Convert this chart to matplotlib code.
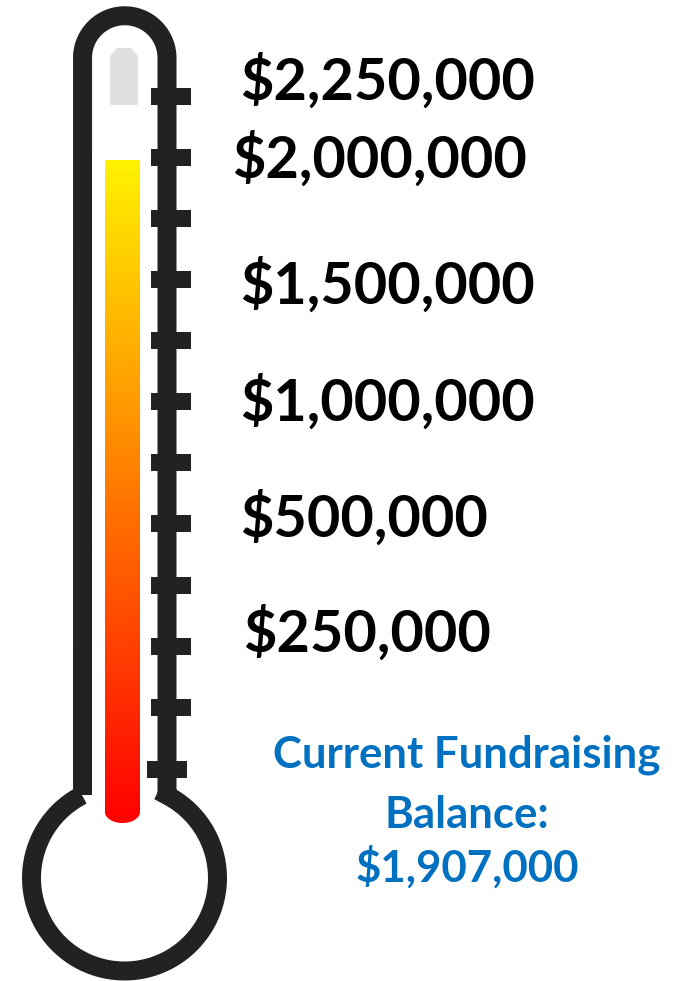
"""Fundraising thermometer infographic."""
import numpy as np
import matplotlib
matplotlib.use("Agg")
import matplotlib.pyplot as plt
from matplotlib.path import Path
from matplotlib.patches import PathPatch
from matplotlib.colors import LinearSegmentedColormap

# data
current_balance = 1907000
label_texts = ["$2,250,000", "$2,000,000", "$1,500,000",
               "$1,000,000", "$500,000", "$250,000"]
caption_lines = ["Current Fundraising", "Balance:", "$1,907,000"]

# layout (pixel space, y grows downward)
W, H = 687, 981
BASE_Y = 823                       # y of empty tube
PX_PER_DOLLAR = (BASE_Y - 160) / current_balance
TUBE_CX, TUBE_HALF, TOP_CY = 124.75, 42.25, 58
BULB_CX, BULB_CY, BULB_R = 124.5, 878, 93
STROKE = "#222222"
LW = 19 * 0.72
tick_y = [96, 157, 218, 279, 340, 401, 462, 523, 585, 646, 707, 769]
label_x = [240, 232, 240, 240, 240, 243]
label_y = [82, 160, 286, 403, 519, 634]
caption_y = [755, 815, 867]

fig = plt.figure(figsize=(W / 100, H / 100), dpi=100)
ax = fig.add_axes([0, 0, 1, 1])
ax.set_xlim(0, W)
ax.set_ylim(H, 0)
ax.axis("off")

# outline: left wall, top cap, right wall, bulb
xl, xr = TUBE_CX - TUBE_HALF, TUBE_CX + TUBE_HALF
a_r = np.arctan2(BULB_CY - 795, xr - BULB_CX)
a_l = np.pi - a_r
t = np.linspace(np.pi, 0, 60)
cap = np.column_stack([TUBE_CX + TUBE_HALF * np.cos(t), TOP_CY - TUBE_HALF * np.sin(t)])
a = np.linspace(a_r, a_l - 2 * np.pi, 200)
bulb = np.column_stack([BULB_CX + BULB_R * np.cos(a), BULB_CY - BULB_R * np.sin(a)])
pts = np.vstack([[[xl, 795]], cap, [[xr, 795]], bulb])
ax.add_patch(PathPatch(Path(pts), fill=False, ec=STROKE, lw=LW,
                       joinstyle="miter", capstyle="butt"))

# scale ticks
for i, y in enumerate(tick_y):
    x0 = 147 if i == len(tick_y) - 1 else 151
    ax.add_patch(plt.Rectangle((x0, y - 8.5), 40, 17, fc=STROKE, ec="none"))

# grey reserve at the top of the tube
ax.add_patch(PathPatch(Path([(110, 105), (110, 56), (117, 48), (131, 48),
                             (138, 56), (138, 105), (110, 105)]),
                       fc="#e0e0e0", ec="none"))

# gradient fill up to current balance
top = BASE_Y - current_balance * PX_PER_DOLLAR
fx0, fx1 = 105, 140
cmap = LinearSegmentedColormap.from_list("heat", ["#ff0000", "#fff200"])
grad = np.linspace(0, 1, 256).reshape(-1, 1)
im = ax.imshow(grad, cmap=cmap, extent=[fx0, fx1, BASE_Y, top],
               origin="lower", aspect="auto", zorder=2)
rx, ry = (fx1 - fx0) / 2, 11
s = np.linspace(0, np.pi, 40)
ell = np.column_stack([fx0 + rx - rx * np.cos(s), BASE_Y - ry + ry * np.sin(s)])
clip = np.vstack([[[fx0, top]], ell, [[fx1, top]], [[fx0, top]]])
clip_patch = PathPatch(Path(clip), fc="none", ec="none")
ax.add_patch(clip_patch)
im.set_clip_path(clip_patch)

# value labels
for txt, x, y in zip(label_texts, label_x, label_y):
    ax.text(x, y, txt, ha="left", va="center", fontsize=41.5,
            fontweight="bold", family="Lato", color="black")

# caption
for txt, y in zip(caption_lines, caption_y):
    ax.text(467, y, txt, ha="center", va="center", fontsize=31.5,
            fontweight="bold", family="Lato", color="#0070c0")

fig.savefig("out.png", dpi=100)
